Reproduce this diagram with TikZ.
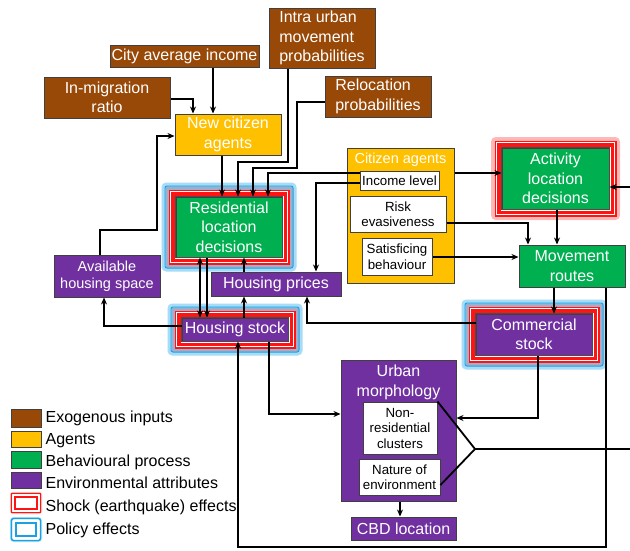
\documentclass[tikz,border=0pt]{standalone}
\usepackage{fontspec}
\setmainfont{Liberation Sans}
\usetikzlibrary{arrows.meta}
\definecolor{brownc}{HTML}{984807}
\definecolor{yellowc}{HTML}{FFC000}
\definecolor{greenc}{HTML}{00B050}
\definecolor{purplec}{HTML}{7030A0}
\definecolor{haloblue}{HTML}{A6DCF7}
\definecolor{lineblue}{HTML}{1BA1E2}
\definecolor{bandgray}{HTML}{A0AECB}
\definecolor{shockred}{HTML}{FF1414}
\definecolor{glowred}{HTML}{FFB8B8}
\newcommand\bigtxt{\fontsize{16}{19.5}\selectfont}
\newcommand\midtxt{\fontsize{14.5}{17}\selectfont}
\newcommand\smalltxt{\fontsize{13.3}{15.5}\selectfont}
\newcommand\policyframe[1]{%
 \draw[haloblue, line width=4pt, rounded corners=3pt] ([shift={(-12,-12)}]#1.north west) rectangle ([shift={(12,12)}]#1.south east);
 \draw[bandgray, line width=3pt] ([shift={(-8.5,-8.5)}]#1.north west) rectangle ([shift={(8.5,8.5)}]#1.south east);
 \draw[lineblue, line width=1pt, rounded corners=2pt] ([shift={(-10.5,-10.5)}]#1.north west) rectangle ([shift={(10.5,10.5)}]#1.south east);}
\newcommand\shockglow[1]{%
 \draw[glowred, line width=4pt, rounded corners=3pt] ([shift={(-8.5,-8.5)}]#1.north west) rectangle ([shift={(8.5,8.5)}]#1.south east);}
\newcommand\shockframe[1]{%
 \draw[shockred, line width=6pt] ([shift={(-4,-4)}]#1.north west) rectangle ([shift={(4,4)}]#1.south east);
 \draw[white, line width=0.8pt] ([shift={(-4.8,-4.8)}]#1.north west) rectangle ([shift={(4.8,4.8)}]#1.south east);
 \draw[black!70, line width=1pt] (#1.north west) rectangle (#1.south east);}
\tikzset{
 box/.style={draw=black!75, line width=1pt, inner sep=0pt, align=center, font=\bigtxt, text=white},
 exo/.style={box, fill=brownc},
 agent/.style={box, fill=yellowc},
 behav/.style={box, fill=greenc},
 env/.style={box, fill=purplec},
 attr/.style={box, fill=white, text=black, font=\smalltxt},
 sz/.style 2 args={minimum width=#1pt, minimum height=#2pt},
 link/.style={line width=1.8pt},
 arr/.style={link, -{Stealth[length=7pt,width=6pt]}},
 arrboth/.style={link, {Stealth[length=7pt,width=6pt]}-{Stealth[length=7pt,width=6pt]}},
 lgtext/.style={anchor=base west, font=\bigtxt, inner sep=0pt, text=black},
}
\begin{document}
\begin{tikzpicture}[x=1pt,y=-1pt]
\path[use as bounding box, fill=white] (0,0) rectangle (630,550);

% exogenous inputs
\node[exo, sz={106}{60}, align=left] (intra) at (322,38) {Intra urban\\movement\\probabilities};
\node[exo, sz={149}{22}] (city) at (184.5,56) {City average income};
\node[exo, sz={126}{41}] (inmig) at (107,97.5) {In-migration\\ratio};
\node[exo, sz={106}{41}, align=left] (reloc) at (378,96.5) {Relocation\\probabilities};

% agents
\node[agent, sz={106}{41}] (newcit) at (228,134.5) {New citizen\\agents};
\node[agent, sz={107}{135}] (citag) at (400.5,215.5) {};
\node[font=\midtxt, text=white, inner sep=0pt] (citagt) at (400.5,160) {Citizen agents};
\node[attr, sz={79}{19}] (income) at (399.5,180.5) {Income level};
\node[attr, sz={96}{36}] (risk) at (398,214) {Risk\\evasiveness};
\node[attr, sz={70}{37}] (satis) at (397,256.5) {Satisficing\\behaviour};

% behavioural processes
\node[behav, sz={106}{60}] (res) at (229,227) {Residential\\location\\decisions};
\node[behav, sz={107}{61}] (act) at (555.5,178.5) {Activity\\location\\decisions};
\node[behav, sz={106}{42}] (move) at (572,266) {Movement\\routes};

% environmental attributes
\node[env, sz={106}{42}, font=\midtxt] (avail) at (107,276) {Available\\housing space};
\node[env, sz={130}{24}] (prices) at (276,284) {Housing prices};
\node[env, sz={106}{23}] (hstock) at (235,329.5) {Housing stock};
\node[env, sz={116}{41}] (comm) at (534,334.5) {Commercial\\stock};
\node[env, sz={115}{141}] (urban) at (398.5,430.5) {};
\node[font=\bigtxt, text=white, align=center, inner sep=0pt] (urbant) at (398.5,382.5) {Urban\\morphology};
\node[attr, sz={74}{52}] (nonres) at (400,428) {Non-\\residential\\clusters};
\node[attr, sz={81}{36}] (nature) at (399.5,477) {Nature of\\environment};
\node[env, sz={105}{23}] (cbd) at (403.5,528.5) {CBD location};

% effect frames
\policyframe{res} \shockframe{res}
\policyframe{hstock} \shockframe{hstock}
\policyframe{comm} \shockframe{comm}
\shockglow{act} \shockframe{act}

% connectors
\draw[arr] (city.south-|213,0) -- (newcit.north-|213,0);
\draw[arr] (inmig.east|-0,99) -| (newcit.north-|193,0);
\draw[arr] (avail.north-|100,0) |- (157,230) |- (newcit.west|-0,136);
\draw[arr] (newcit.south-|222,0) -- (res.north-|222,0);
\draw[arr] (intra.south-|288,0) |- (238,162) -- (res.north-|238,0);
\draw[arr] (reloc.west|-0,102) -| (297,168) -| (res.north-|253,0);
\draw[arr] (income.west|-0,173) -| (res.north-|268,0);
\draw[arr] (income.west|-0,183) -| (prices.north-|316,0);
\draw[arr] (citag.east|-0,173) -- (act.west|-0,173);
\draw[arr] (risk.east|-0,223) -| (move.north-|528,0);
\draw[arr] (satis.east|-0,257) -- (move.west|-0,257);
\draw[arr] (act.south-|557,0) -- (move.north-|557,0);
\coordinate (rightin) at (630,187);
\draw[arr] (rightin) -- (act.east|-rightin);
\draw[arr] (move.south-|554,0) -- (comm.north-|554,0);
\draw[arr] (move.south-|606,0) |- (238,547) -- (hstock.south-|238,0);
\draw[arr] (hstock.south-|269,0) |- (urban.west|-0,414);
\draw[arr] (comm.south-|538,0) |- (urban.east|-0,418);
\draw[arr] (comm.west|-0,323) -| (prices.south-|307,0);
\draw[arr] (hstock.north-|244,0) -- (prices.south-|244,0);
\draw[arr] (prices.north-|244,0) -- (res.south-|244,0);
\draw[arrboth] (res.south-|200,0) -- (hstock.north-|200,0);
\draw[arr] (res.south-|207,0) -- (hstock.north-|207,0);
\draw[arr] (hstock.west|-0,326) -| (avail.south-|104,0);
\coordinate (brk) at (475,449);
\coordinate (rightout) at (630,449);
\draw[link] (nonres.north east) -- (brk) -- (nature.east|-0,485);
\draw[link] (brk) -- (rightout);
\draw[arr] (urban.south-|400,0) -- (cbd.north-|400,0);

% legend
\node[box, fill=brownc, sz={30}{18}] (lgexo) at (26,418) {};
\node[box, fill=yellowc, sz={30}{16}] (lgag) at (26,439) {};
\node[box, fill=greenc, sz={30}{17}] (lgbeh) at (26,459.5) {};
\node[box, fill=purplec, sz={30}{16}] (lgenv) at (26,480) {};
\node[draw=glowred, line width=2pt, fill=white, sz={30}{20}, inner sep=0pt, rounded corners=2pt] (lgshock) at (26,503) {};
\draw[shockred, line width=1.3pt] ([shift={(1.5,1.5)}]lgshock.north west) rectangle ([shift={(-1.5,-1.5)}]lgshock.south east);
\draw[shockred, line width=1.2pt] ([shift={(5,5)}]lgshock.north west) rectangle ([shift={(-5,-5)}]lgshock.south east);
\node[draw=haloblue, line width=2pt, fill=white, sz={30}{23}, inner sep=0pt, rounded corners=3pt] (lgpol) at (26,529.5) {};
\draw[lineblue, line width=1.4pt, rounded corners=2pt] ([shift={(1.5,1.5)}]lgpol.north west) rectangle ([shift={(-1.5,-1.5)}]lgpol.south east);
\draw[lineblue, line width=1.2pt] ([shift={(6,6)}]lgpol.north west) rectangle ([shift={(-6,-6)}]lgpol.south east);
\node[lgtext] (ltexo) at (45.4,422.3) {Exogenous inputs};
\node[lgtext] (ltag) at (45.4,444) {Agents};
\node[lgtext] (ltbeh) at (45.4,466.7) {Behavioural process};
\node[lgtext] (ltenv) at (45.4,488.7) {Environmental attributes};
\node[lgtext] (ltshock) at (45.4,511) {Shock (earthquake) effects};
\node[lgtext] (ltpol) at (45.4,534) {Policy effects};
\end{tikzpicture}
\end{document}
